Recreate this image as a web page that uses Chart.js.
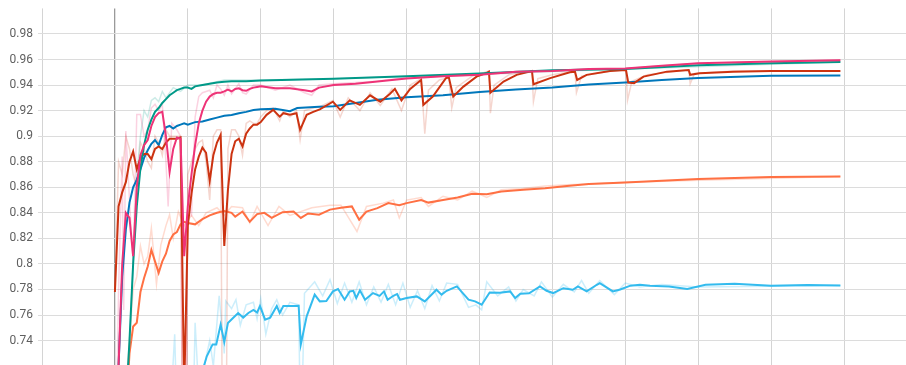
<!DOCTYPE html>
<html>
<head>
<meta charset="utf-8">
<script src="https://cdn.jsdelivr.net/npm/chart.js@4.4.1/dist/chart.umd.min.js"></script>
<style>
  html, body { margin: 0; padding: 0; background: #fff; }
  #chart { display: block; }
</style>
</head>
<body>
<canvas id="chart" width="906" height="365"></canvas>
<script>
// eje Y: marcas visibles
const yTicks = [0.74, 0.76, 0.78, 0.8, 0.82, 0.84, 0.86, 0.88, 0.9, 0.92, 0.94, 0.96, 0.98];
// eje X: lineas verticales (miles de pasos)
const xTicks = [-1, 0, 1, 2, 3, 4, 5, 6, 7, 8, 9, 10];

// series suavizadas [paso, accuracy]
const pinkRun = [
  [0, 0.60], [0.05, 0.72], [0.1, 0.80], [0.15, 0.840], [0.2, 0.836], [0.25, 0.806],
  [0.3, 0.860], [0.35, 0.885], [0.4, 0.893], [0.45, 0.897], [0.5, 0.908], [0.55, 0.915],
  [0.6, 0.918], [0.65, 0.919], [0.7, 0.900], [0.75, 0.872], [0.8, 0.890], [0.85, 0.899],
  [0.9, 0.898], [0.95, 0.806], [1.0, 0.845], [1.05, 0.870], [1.1, 0.893], [1.15, 0.910],
  [1.2, 0.920], [1.25, 0.927], [1.3, 0.931], [1.35, 0.933], [1.4, 0.934], [1.45, 0.934],
  [1.5, 0.935], [1.55, 0.9365], [1.6, 0.935], [1.65, 0.937], [1.7, 0.9375], [1.75, 0.936],
  [1.8, 0.9355], [1.85, 0.937], [1.9, 0.938], [1.95, 0.9385], [2.0, 0.939], [2.2, 0.9375],
  [2.4, 0.9375], [2.6, 0.936], [2.7, 0.935], [2.8, 0.938], [3.0, 0.940], [3.3, 0.941],
  [3.6, 0.9427], [4.0, 0.9452], [4.5, 0.9468], [5.0, 0.948], [5.5, 0.9505], [6.0, 0.951],
  [6.5, 0.9525], [7.0, 0.953], [7.5, 0.9552], [8.0, 0.957], [9.0, 0.9585], [9.95, 0.9595]
];

const tealRun = [
  [0, 0.55], [0.05, 0.60], [0.1, 0.65], [0.15, 0.69], [0.2, 0.74], [0.25, 0.80],
  [0.3, 0.845], [0.35, 0.875], [0.4, 0.893], [0.45, 0.905], [0.5, 0.913], [0.55, 0.919],
  [0.6, 0.922], [0.65, 0.926], [0.7, 0.929], [0.75, 0.932], [0.8, 0.934], [0.85, 0.936],
  [0.9, 0.937], [0.95, 0.938], [1.0, 0.938], [1.05, 0.937], [1.1, 0.939], [1.2, 0.940],
  [1.3, 0.941], [1.4, 0.942], [1.5, 0.9425], [1.6, 0.943], [1.8, 0.943], [2.0, 0.9435],
  [3.0, 0.945], [4.0, 0.9468], [5.0, 0.949], [6.0, 0.9515], [7.0, 0.9525], [8.0, 0.9555],
  [9.0, 0.957], [9.95, 0.958]
];

const redRun = [
  [0, 0.778], [0.05, 0.845], [0.1, 0.856], [0.15, 0.864], [0.2, 0.880], [0.25, 0.888],
  [0.3, 0.874], [0.35, 0.883], [0.4, 0.886], [0.45, 0.886], [0.5, 0.882], [0.55, 0.890],
  [0.6, 0.892], [0.65, 0.890], [0.7, 0.895], [0.75, 0.898], [0.8, 0.898], [0.85, 0.898],
  [0.9, 0.899], [0.95, 0.700], [1.0, 0.830], [1.05, 0.855], [1.1, 0.874], [1.15, 0.884],
  [1.2, 0.891], [1.25, 0.887], [1.3, 0.865], [1.35, 0.885], [1.4, 0.895], [1.45, 0.901],
  [1.5, 0.814], [1.55, 0.858], [1.6, 0.886], [1.65, 0.896], [1.7, 0.898], [1.75, 0.892],
  [1.8, 0.902], [1.85, 0.906], [1.9, 0.909], [1.95, 0.909], [2.0, 0.911], [2.08, 0.9167],
  [2.17, 0.9206], [2.26, 0.9153], [2.31, 0.918], [2.40, 0.9167], [2.49, 0.918], [2.54, 0.905],
  [2.63, 0.9167], [2.72, 0.919], [2.81, 0.921], [2.99, 0.927], [3.09, 0.9206], [3.22, 0.928],
  [3.36, 0.9245], [3.50, 0.932], [3.64, 0.927], [3.77, 0.933], [3.84, 0.937], [3.93, 0.928],
  [4.05, 0.937], [4.20, 0.944], [4.23, 0.9245], [4.36, 0.931], [4.54, 0.9454], [4.58, 0.946],
  [4.64, 0.931], [4.78, 0.9388], [4.96, 0.9466], [5.10, 0.9495], [5.13, 0.9505], [5.15, 0.934],
  [5.33, 0.9427], [5.51, 0.948], [5.69, 0.9505], [5.72, 0.951], [5.74, 0.9406], [5.97, 0.9454],
  [6.24, 0.950], [6.31, 0.9505], [6.34, 0.944], [6.47, 0.948], [6.79, 0.951], [7.01, 0.9518],
  [7.04, 0.942], [7.12, 0.9415], [7.25, 0.9466], [7.57, 0.9505], [7.87, 0.9518], [7.89, 0.948],
  [8.02, 0.9492], [8.48, 0.9505], [9.0, 0.951], [9.95, 0.951]
];

const blueRun = [
  [0, 0.55], [0.05, 0.72], [0.1, 0.79], [0.15, 0.827], [0.2, 0.848], [0.25, 0.860],
  [0.3, 0.866], [0.35, 0.874], [0.4, 0.883], [0.45, 0.889], [0.5, 0.894], [0.55, 0.897],
  [0.6, 0.893], [0.65, 0.901], [0.7, 0.907], [0.75, 0.908], [0.8, 0.906], [0.85, 0.908],
  [0.9, 0.909], [0.95, 0.910], [1.0, 0.909], [1.1, 0.911], [1.2, 0.9115], [1.3, 0.913],
  [1.4, 0.9145], [1.5, 0.916], [1.6, 0.9165], [1.7, 0.918], [1.8, 0.919], [1.9, 0.9205],
  [2.0, 0.921], [2.2, 0.9215], [2.4, 0.9195], [2.5, 0.922], [2.8, 0.923], [3.0, 0.9235],
  [3.3, 0.926], [3.6, 0.9285], [4.0, 0.9305], [4.5, 0.932], [5.0, 0.9345], [5.5, 0.9365],
  [6.0, 0.938], [6.5, 0.9405], [7.0, 0.942], [7.5, 0.944], [8.0, 0.9455], [9.0, 0.9472],
  [9.95, 0.9474]
];

const orangeRun = [
  [0, 0.55], [0.15, 0.68], [0.2, 0.73], [0.25, 0.751], [0.3, 0.754], [0.35, 0.778],
  [0.4, 0.789], [0.45, 0.798], [0.5, 0.811], [0.55, 0.802], [0.6, 0.793], [0.65, 0.802],
  [0.7, 0.808], [0.75, 0.818], [0.8, 0.823], [0.85, 0.825], [0.9, 0.831], [0.95, 0.833],
  [1.0, 0.832], [1.1, 0.831], [1.2, 0.835], [1.3, 0.838], [1.4, 0.840], [1.5, 0.8415],
  [1.6, 0.840], [1.65, 0.837], [1.75, 0.841], [1.85, 0.833], [1.95, 0.839], [2.05, 0.840],
  [2.15, 0.836], [2.3, 0.8405], [2.45, 0.841], [2.55, 0.836], [2.65, 0.8395], [2.8, 0.8385],
  [2.95, 0.8425], [3.1, 0.844], [3.25, 0.845], [3.35, 0.8346], [3.45, 0.841], [3.6, 0.8437],
  [3.75, 0.8476], [3.9, 0.846], [4.0, 0.8476], [4.2, 0.850], [4.3, 0.848], [4.5, 0.850],
  [4.7, 0.852], [4.9, 0.855], [5.1, 0.8545], [5.3, 0.8567], [5.6, 0.858], [5.9, 0.8593],
  [6.2, 0.861], [6.5, 0.8625], [7.0, 0.8638], [7.5, 0.8652], [8.0, 0.8664], [8.5, 0.8672],
  [9.0, 0.868], [9.95, 0.8684]
];

const cyanRun = [
  [0, 0.50], [0.6, 0.64], [1.0, 0.69], [1.2, 0.716], [1.26, 0.7277], [1.34, 0.737],
  [1.39, 0.737], [1.45, 0.7525], [1.50, 0.739], [1.55, 0.7538], [1.62, 0.7577], [1.69, 0.7616],
  [1.76, 0.758], [1.83, 0.7616], [1.90, 0.764], [1.95, 0.762], [1.99, 0.767], [2.06, 0.7564],
  [2.13, 0.758], [2.22, 0.767], [2.26, 0.7616], [2.31, 0.767], [2.45, 0.767], [2.52, 0.7673],
  [2.55, 0.737], [2.63, 0.759], [2.74, 0.776], [2.81, 0.7707], [2.90, 0.771], [2.99, 0.7785],
  [3.06, 0.7804], [3.15, 0.772], [3.22, 0.7785], [3.27, 0.779], [3.31, 0.7733], [3.36, 0.7793],
  [3.43, 0.772], [3.54, 0.7772], [3.63, 0.775], [3.69, 0.7785], [3.74, 0.772], [3.82, 0.7751],
  [3.87, 0.7765], [3.91, 0.772], [4.0, 0.7733], [4.14, 0.7746], [4.25, 0.7707], [4.41, 0.7798],
  [4.48, 0.776], [4.55, 0.779], [4.69, 0.7824], [4.85, 0.772], [4.94, 0.7707], [5.03, 0.7681],
  [5.14, 0.7777], [5.28, 0.7775], [5.42, 0.7785], [5.49, 0.7733], [5.56, 0.7767], [5.68, 0.777],
  [5.83, 0.7824], [5.92, 0.779], [6.01, 0.7772], [6.15, 0.781], [6.28, 0.7798], [6.35, 0.7824],
  [6.47, 0.7785], [6.61, 0.7837], [6.65, 0.785], [6.83, 0.7785], [6.93, 0.780], [7.07, 0.783],
  [7.20, 0.7837], [7.34, 0.783], [7.6, 0.7824], [7.85, 0.7804], [8.1, 0.7837], [8.5, 0.7845],
  [9.0, 0.783], [9.5, 0.7835], [9.95, 0.7832]
];

// valores sin suavizar (trazo tenue)
const pinkRaw = [
  [0, 0.60], [0.05, 0.78], [0.1, 0.884], [0.12, 0.764], [0.15, 0.904], [0.2, 0.85],
  [0.25, 0.80], [0.3, 0.917], [0.35, 0.917], [0.4, 0.90], [0.45, 0.905], [0.5, 0.922],
  [0.55, 0.925], [0.6, 0.92], [0.65, 0.925], [0.7, 0.88], [0.73, 0.845], [0.78, 0.91],
  [0.85, 0.905], [0.9, 0.90], [0.95, 0.40], [1.0, 0.86], [1.05, 0.837], [1.1, 0.915],
  [1.15, 0.931], [1.2, 0.934], [1.25, 0.935], [1.3, 0.936], [1.35, 0.93], [1.4, 0.94],
  [1.45, 0.937], [1.5, 0.932], [1.55, 0.94], [1.6, 0.933], [1.7, 0.941], [1.75, 0.934],
  [1.8, 0.933], [1.9, 0.94], [2.0, 0.94], [2.2, 0.936], [2.4, 0.94], [2.6, 0.934],
  [2.7, 0.932], [2.8, 0.94], [3.0, 0.941], [3.3, 0.942], [3.6, 0.943], [4.0, 0.946],
  [5.0, 0.948], [6.0, 0.951], [7.0, 0.953], [8.0, 0.957], [9.95, 0.9595]
];

const tealRaw = [
  [0.2, 0.74], [0.25, 0.80], [0.3, 0.87], [0.35, 0.90], [0.4, 0.92], [0.45, 0.915],
  [0.5, 0.928], [0.55, 0.93], [0.6, 0.927], [0.65, 0.935], [0.7, 0.93], [0.8, 0.938],
  [0.9, 0.935], [1.0, 0.94], [1.2, 0.94], [1.5, 0.944], [2.0, 0.944], [3.0, 0.945],
  [9.95, 0.958]
];

const redRaw = [
  [0, 0.778], [0.05, 0.88], [0.1, 0.87], [0.15, 0.90], [0.2, 0.89], [0.25, 0.87],
  [0.3, 0.86], [0.35, 0.895], [0.4, 0.89], [0.45, 0.88], [0.5, 0.875], [0.55, 0.90],
  [0.6, 0.895], [0.65, 0.885], [0.7, 0.905], [0.75, 0.90], [0.8, 0.90], [0.85, 0.90],
  [0.9, 0.90], [0.95, 0.40], [1.0, 0.87], [1.05, 0.88], [1.1, 0.89], [1.15, 0.895],
  [1.2, 0.897], [1.25, 0.88], [1.3, 0.85], [1.35, 0.90], [1.4, 0.905], [1.45, 0.905],
  [1.5, 0.40], [1.55, 0.89], [1.6, 0.905], [1.65, 0.905], [1.7, 0.90], [1.75, 0.885],
  [1.8, 0.91], [1.85, 0.912], [1.9, 0.91], [1.95, 0.91], [2.0, 0.915], [2.08, 0.92],
  [2.17, 0.922], [2.26, 0.912], [2.31, 0.92], [2.4, 0.915], [2.49, 0.92], [2.54, 0.897],
  [2.6, 0.92], [2.72, 0.922], [2.81, 0.923], [2.99, 0.928], [3.09, 0.915], [3.2, 0.93],
  [3.36, 0.92], [3.5, 0.934], [3.64, 0.924], [3.8, 0.937], [3.93, 0.92], [4.05, 0.94],
  [4.2, 0.945], [4.25, 0.902], [4.3, 0.936], [4.45, 0.944], [4.58, 0.946], [4.62, 0.922],
  [4.68, 0.938], [4.9, 0.947], [5.13, 0.951], [5.15, 0.918], [5.2, 0.94], [5.4, 0.948],
  [5.72, 0.951], [5.74, 0.927], [5.8, 0.945], [6.0, 0.948], [6.31, 0.951], [6.33, 0.934],
  [6.4, 0.947], [6.8, 0.951], [7.01, 0.952], [7.03, 0.928], [7.09, 0.943], [7.3, 0.948],
  [7.87, 0.952], [7.89, 0.941], [7.95, 0.949], [8.5, 0.951], [9.95, 0.951]
];

const orangeRaw = [
  [0, 0.55], [0.15, 0.70], [0.25, 0.78], [0.3, 0.79], [0.35, 0.814], [0.4, 0.80],
  [0.45, 0.806], [0.5, 0.828], [0.57, 0.784], [0.63, 0.815], [0.7, 0.83], [0.75, 0.8385],
  [0.8, 0.82], [0.87, 0.841], [0.95, 0.83], [1.05, 0.838], [1.15, 0.83], [1.25, 0.84],
  [1.4, 0.844], [1.5, 0.838], [1.6, 0.845], [1.75, 0.844], [1.85, 0.832], [1.95, 0.845],
  [2.1, 0.83], [2.25, 0.845], [2.4, 0.838], [2.7, 0.844], [2.95, 0.846], [3.1, 0.846],
  [3.32, 0.8254], [3.45, 0.845], [3.68, 0.8476], [3.82, 0.85], [3.9, 0.836], [4.0, 0.85],
  [4.2, 0.852], [4.3, 0.845], [4.5, 0.853], [4.7, 0.85], [4.9, 0.857], [5.1, 0.852],
  [5.3, 0.858], [5.6, 0.859], [5.9, 0.861], [6.2, 0.862], [6.5, 0.8625], [7.0, 0.864],
  [9.95, 0.8684]
];

const cyanRaw = [
  [0.7, 0.62], [0.82, 0.745], [0.86, 0.66], [1.08, 0.70], [1.1, 0.754], [1.15, 0.70],
  [1.3, 0.74], [1.35, 0.72], [1.43, 0.775], [1.5, 0.73], [1.52, 0.771], [1.6, 0.765],
  [1.66, 0.772], [1.72, 0.752], [1.8, 0.768], [1.9, 0.77], [1.95, 0.757], [2.0, 0.773],
  [2.07, 0.745], [2.15, 0.765], [2.22, 0.772], [2.3, 0.76], [2.4, 0.77], [2.52, 0.768],
  [2.55, 0.65], [2.6, 0.777], [2.74, 0.786], [2.85, 0.775], [2.95, 0.7877], [3.05, 0.769],
  [3.15, 0.785], [3.25, 0.77], [3.35, 0.786], [3.45, 0.768], [3.55, 0.782], [3.65, 0.77],
  [3.75, 0.784], [3.85, 0.768], [3.95, 0.785], [4.05, 0.766], [4.15, 0.779], [4.25, 0.765],
  [4.35, 0.783], [4.45, 0.771], [4.55, 0.785], [4.7, 0.784], [4.85, 0.766], [4.95, 0.768],
  [5.03, 0.764], [5.1, 0.786], [5.25, 0.775], [5.4, 0.782], [5.5, 0.771], [5.6, 0.78],
  [5.75, 0.775], [5.85, 0.786], [6.0, 0.774], [6.15, 0.784], [6.3, 0.778], [6.4, 0.787],
  [6.5, 0.777], [6.65, 0.787], [6.85, 0.776], [7.0, 0.785], [7.2, 0.782], [7.5, 0.784],
  [8.0, 0.782], [9.95, 0.7832]
];

const runs = [
  { data: pinkRun, color: '#ee3377' },
  { data: tealRun, color: '#009988' },
  { data: redRun, color: '#cc3311' },
  { data: blueRun, color: '#0077bb' },
  { data: orangeRun, color: '#ff7043' },
  { data: cyanRun, color: '#33bbee' }
];

const rawRuns = [
  { data: pinkRaw, color: 'rgba(238, 51, 119, 0.22)' },
  { data: tealRaw, color: 'rgba(0, 153, 136, 0.2)' },
  { data: redRaw, color: 'rgba(204, 51, 17, 0.2)' },
  { data: orangeRaw, color: 'rgba(255, 112, 67, 0.25)' },
  { data: cyanRaw, color: 'rgba(51, 187, 238, 0.25)' }
];

const lineSet = (r, width) => ({
  data: r.data,
  borderColor: r.color,
  borderWidth: width,
  pointRadius: 0,
  tension: 0,
  fill: false
});

const ctx = document.getElementById('chart').getContext('2d');

new Chart(ctx, {
  type: 'line',
  data: {
    datasets: runs.map(r => lineSet(r, 2)).concat(rawRuns.map(r => lineSet(r, 1.5)))
  },
  options: {
    responsive: false,
    animation: false,
    layout: { padding: { top: 8.4, left: 0, right: 0, bottom: 0 } },
    plugins: { legend: { display: false }, tooltip: { enabled: false } },
    scales: {
      x: {
        type: 'linear',
        min: -1,
        max: 10.85,
        afterBuildTicks: axis => { axis.ticks = xTicks.map(v => ({ value: v })); },
        afterFit: axis => { axis.height = 0; axis.paddingLeft = 0; axis.paddingRight = 0; },
        ticks: { display: false },
        border: { display: false },
        grid: {
          drawTicks: false,
          lineWidth: c => (c.tick && c.tick.value === 0) ? 1.3 : 1,
          color: c => (c.tick && c.tick.value === 0) ? '#9a9a9a' : '#d4d4d4'
        }
      },
      y: {
        min: 0.7209,
        max: 1.0,
        afterBuildTicks: axis => { axis.ticks = yTicks.map(v => ({ value: v })); },
        afterFit: axis => { axis.width = 42; axis.paddingTop = 0; axis.paddingBottom = 0; },
        border: { display: false },
        grid: { color: '#dcdcdc', lineWidth: 1, tickLength: 4 },
        ticks: {
          padding: 5,
          color: '#5f5f5f',
          font: { family: 'Roboto', size: 12 },
          callback: v => String(Math.round(v * 100) / 100)
        }
      }
    }
  }
});
</script>
</body>
</html>
